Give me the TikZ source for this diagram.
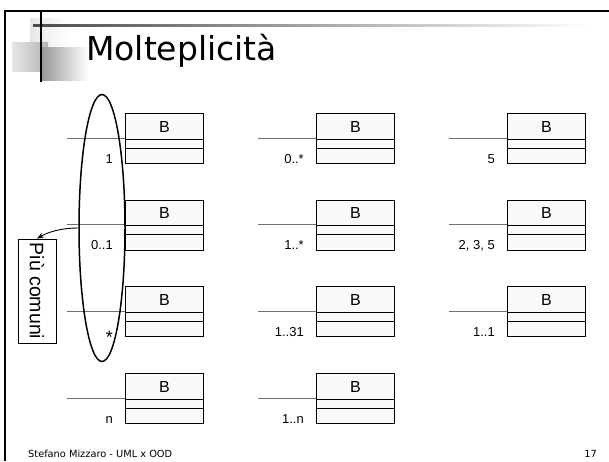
\documentclass[tikz,border=0pt]{standalone}
\usepackage{fontspec}
\setmainfont{Liberation Sans}
\newfontfamily\slidefont{DejaVu Sans}
\usetikzlibrary{arrows.meta, positioning, calc, shapes.geometric}
\definecolor{classfill}{HTML}{FAFAFA}
\definecolor{linkgray}{HTML}{707070}
\definecolor{decolight}{HTML}{E6E6E6}
\definecolor{decomid}{HTML}{B4B4B4}
\definecolor{decodark}{HTML}{999999}
\newcommand{\starmult}{\raisebox{-7.5pt}{\fontsize{18}{18}\selectfont *}\hspace{3pt}}

\begin{document}
\begin{tikzpicture}[
    x=1pt, y=-1pt,
    >=Stealth,
    every node/.style={inner sep=0pt},
    classbox/.style={
        draw=black, line width=0.9pt, fill=classfill,
        minimum width=78pt, minimum height=50pt, anchor=north west
    },
    classname/.style={font=\fontsize{16}{18}\selectfont},
    divider/.style={draw=black, line width=0.8pt},
    linkline/.style={draw=linkgray, line width=0.8pt},
    multlabel/.style={anchor=base east, font=\fontsize{13}{15}\selectfont},
    framerule/.style={draw=black, line width=2pt},
]

% === Page frame ===
\useasboundingbox (0,0) rectangle (609,461);
\draw[framerule] (5,10) -- (5,461);
\draw[framerule] (4,11) -- (609,11);

% === Title decoration ===
\shade[left color=decolight, right color=white] (30,18) rectangle (68,50);
\shade[left color=decolight, right color=decomid] (12,42) rectangle (48,71);
\shade[left color=decodark, right color=white] (42,47) rectangle (88,80);
\shade[left color=black!70, right color=white] (33,24.5) rectangle (590,26.5);
\draw[black, line width=1.6pt] (41,11) -- (41,82);

% === Title ===
\node[anchor=base west, font=\slidefont\fontsize{33}{36}\selectfont] (title) at (86,60) {Molteplicità};

% === Classes with multiplicities ===
\foreach \col/\row/\mult in {0/0/1, 1/0/0..*, 2/0/5,
                             0/1/0..1, 1/1/1..*, 2/1/{2, 3, 5},
                             0/2/\starmult, 1/2/1..31, 2/2/1..1,
                             0/3/n, 1/3/1..n}{
    \node[classbox] (cls\col\row) at ({125+191*\col}, {113+86.7*\row}) {};
    \node[classname] at ($(cls\col\row.north)+(0,13.5)$) {B};
    \draw[divider] ($(cls\col\row.north west)+(0,26)$) -- ($(cls\col\row.north east)+(0,26)$);
    \draw[divider] ($(cls\col\row.north west)+(0,35)$) -- ($(cls\col\row.north east)+(0,35)$);
    \coordinate (end\col\row) at ($(cls\col\row.north west)+(-58,25)$);
    \draw[linkline] (end\col\row) -- ($(cls\col\row.north west)+(0,25)$);
    \node[multlabel] at ($(cls\col\row.north west)+(-12,50)$) {\mult};
}

% === Most common ones ===
\node[draw=black, line width=1.5pt, ellipse, minimum width=46pt, minimum height=267pt] (common) at (102,228) {};
\node[draw=black, line width=0.8pt, fill=white, rotate=-90,
      minimum width=104pt, minimum height=38pt,
      font=\fontsize{19.5}{22}\selectfont] (comuni) at (37,291) {Più comuni};
\draw[->, line width=0.9pt] (common.west) .. controls +(-18,0) and +(10,-6) .. (comuni.west);

% === Footer ===
\node[anchor=base west, font=\slidefont\fontsize{9.8}{11}\selectfont] (author) at (28,457) {Stefano Mizzaro - UML x OOD};
\node[anchor=base east, font=\slidefont\fontsize{9.8}{11}\selectfont] (pagenum) at (597,457) {17};

\end{tikzpicture}
\end{document}
